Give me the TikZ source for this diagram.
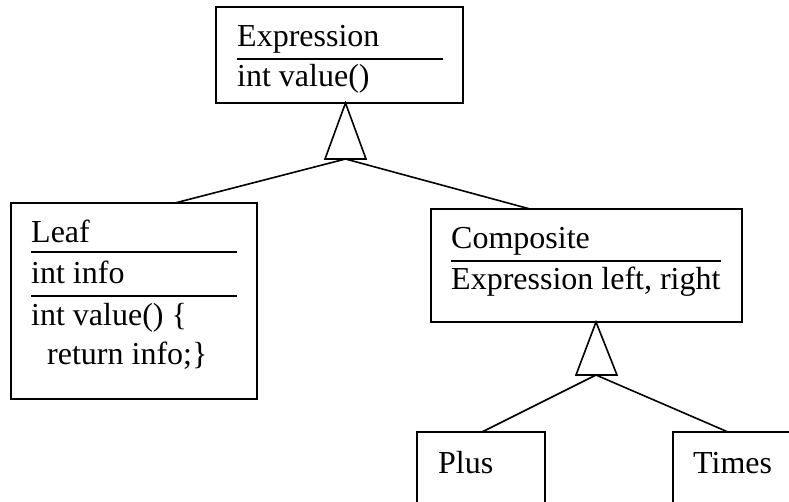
\documentclass[tikz,border=0pt]{standalone}
\usepackage{fontspec}
\setmainfont{Liberation Serif}
\begin{document}
\begin{tikzpicture}[x=1pt,y=-1pt,
  box/.style={draw, line width=1.6pt, rectangle, inner sep=0pt, outer sep=0pt, anchor=north west},
  txt/.style={anchor=base west, inner sep=0pt, font=\fontsize{32}{38}\selectfont},
  sep/.style={line width=2pt},
  conn/.style={line width=1.6pt}]
\clip (0,0) rectangle (789,502);
% boxes
\node[box, minimum width=247pt, minimum height=96pt] (expr) at (216,7) {};
\node[box, minimum width=246pt, minimum height=196pt] (leaf) at (11,203) {};
\node[box, minimum width=311pt, minimum height=113pt] (comp) at (431,209) {};
\node[box, minimum width=128pt, minimum height=100pt] (plus) at (417,432) {};
\node[box, minimum width=132pt, minimum height=100pt] (times) at (673,432) {};
% texts
\node[txt] (exprname) at (237,47) {Expression};
\node[txt] (exprop) at (237,87) {int value()};
\node[txt] (leafname) at (31,243) {Leaf};
\node[txt] (leafattr) at (31,284) {int info};
\node[txt] (leafop1) at (31,325) {int value() \{};
\node[txt] (leafop2) at (47,364) {return info;\}};
\node[txt] (compname) at (451,249) {Composite};
\node[txt] (compattr) at (451,290) {Expression left, right};
\node[txt] (plusname) at (438,473) {Plus};
\node[txt] (timesname) at (693,473) {Times};
% separators
\draw[sep] (237,59) coordinate (e1a) -- (443,59) coordinate (e1b);
\draw[sep] (31,252) coordinate (l1a) -- (237,252) coordinate (l1b);
\draw[sep] (31,296) coordinate (l2a) -- (237,296) coordinate (l2b);
\draw[sep] (451,261) coordinate (c1a) -- (721,261) coordinate (c1b);
% inheritance triangles
\coordinate (apex1) at (345.5,103);
\coordinate (b1l) at (325,159);
\coordinate (b1r) at (366,159);
\coordinate (j1) at (345.5,159);
\draw[conn, line join=miter] (apex1) -- (b1l) -- (b1r) -- cycle;
\coordinate (apex2) at (596,322);
\coordinate (b2l) at (576,375);
\coordinate (b2r) at (617,375);
\coordinate (j2) at (596,375);
\draw[conn, line join=miter] (apex2) -- (b2l) -- (b2r) -- cycle;
% connectors
\draw[conn] (j1) -- ([xshift=41pt]leaf.north);
\draw[conn] (j1) -- ([xshift=-56.5pt]comp.north);
\draw[conn] (j2) -- ([xshift=1pt]plus.north);
\draw[conn] (j2) -- ([xshift=-11pt]times.north);
\end{tikzpicture}
\end{document}
